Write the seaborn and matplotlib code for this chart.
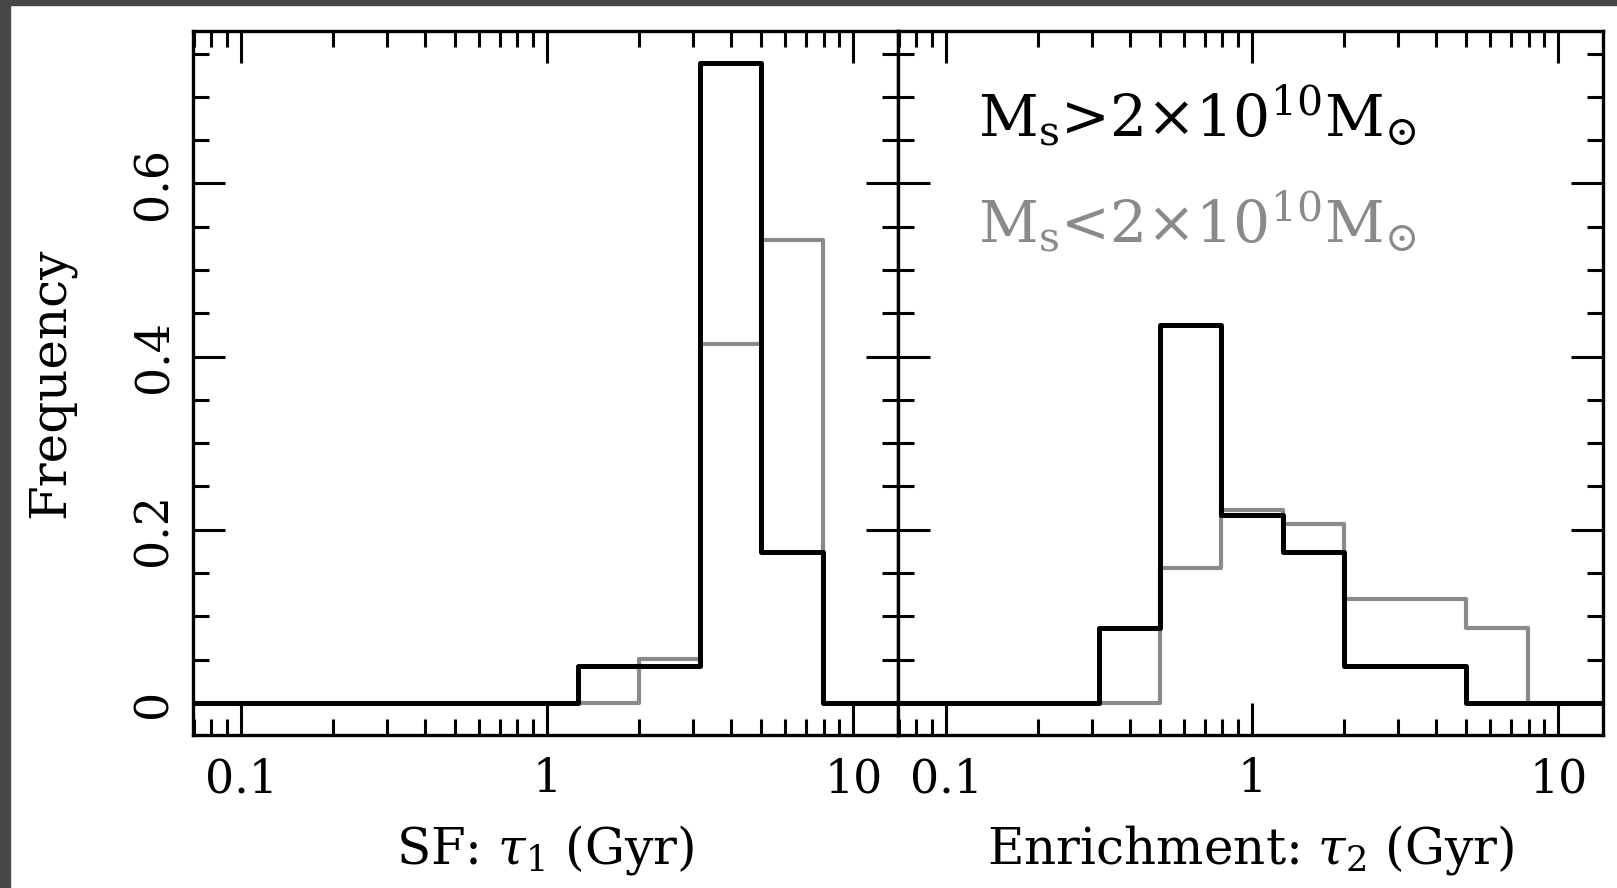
import matplotlib
matplotlib.use("Agg")
import matplotlib.pyplot as plt
import seaborn as sns
import pandas as pd
from matplotlib.ticker import FixedLocator, LogLocator, NullFormatter, MultipleLocator
from matplotlib.patches import Rectangle

# ---------------- data ----------------
bin_edges = [0.05, 0.0794, 0.126, 0.2, 0.316, 0.5, 0.794, 1.26, 2.0, 3.16, 5.0, 7.94, 12.6, 20.0]
sf_high = [0, 0, 0, 0, 0, 0, 0, 0.043, 0.043, 0.739, 0.174, 0, 0]
sf_low = [0, 0, 0, 0, 0, 0, 0, 0, 0.051, 0.414, 0.535, 0, 0]
enr_high = [0, 0, 0, 0, 0.087, 0.436, 0.217, 0.174, 0.043, 0.043, 0, 0, 0]
enr_low = [0, 0, 0, 0, 0, 0.156, 0.223, 0.207, 0.120, 0.120, 0.087, 0, 0]

x_ticks = [0.1, 1, 10]
x_tick_labels = ["0.1", "1", "10"]
y_ticks = [0, 0.2, 0.4, 0.6]
y_tick_labels = ["0", "0.2", "0.4", "0.6"]
x_labels = [r"SF: $\tau_{1}$ (Gyr)", r"Enrichment: $\tau_{2}$ (Gyr)"]
legend_labels = [r"M$_{\rm s}$>2$\times$10$^{10}$M$_{\odot}$",
                 r"M$_{\rm s}$<2$\times$10$^{10}$M$_{\odot}$"]
ylabel = "Frequency"

BLACK = "#000000"
GRAY = "#8a8a8a"

sns.set_theme(style="ticks")
plt.rcParams["font.family"] = ["DejaVu Serif"]
plt.rcParams["mathtext.fontset"] = "dejavuserif"

fig = plt.figure(figsize=(16.17, 8.88), dpi=100)
fig.patch.set_facecolor("white")
# dark frame strips of the screenshot
fig.patches.append(Rectangle((0, 0), 10 / 1617, 1, transform=fig.transFigure, color="#474747", zorder=0))
fig.patches.append(Rectangle((0, 1 - 5 / 888), 1, 5 / 888, transform=fig.transFigure, color="#474747", zorder=0))

bottom = 1 - 735 / 888
height = (735 - 31) / 888
ax1 = fig.add_axes([193 / 1617, bottom, (898 - 193) / 1617, height])
ax2 = fig.add_axes([898 / 1617, bottom, (1603 - 898) / 1617, height])


def step_df(vals):
    return pd.DataFrame({"x": bin_edges, "y": list(vals) + [vals[-1]]})


for ax, low, high, xl in [(ax1, sf_low, sf_high, x_labels[0]), (ax2, enr_low, enr_high, x_labels[1])]:
    sns.lineplot(data=step_df(low), x="x", y="y", drawstyle="steps-post", color=GRAY,
                 lw=3.0, estimator=None, sort=False, ax=ax)
    sns.lineplot(data=step_df(high), x="x", y="y", drawstyle="steps-post", color=BLACK,
                 lw=3.6, estimator=None, sort=False, ax=ax)
    ax.set_xscale("log")
    ax.set_xlim(0.0697, 14.0)
    ax.set_ylim(-0.037, 0.776)
    ax.set_facecolor("white")
    for s in ax.spines.values():
        s.set_linewidth(2.4)
        s.set_color("black")
        s.set_visible(True)
    ax.xaxis.set_major_locator(FixedLocator(x_ticks))
    ax.set_xticklabels(x_tick_labels)
    ax.xaxis.set_minor_locator(LogLocator(base=10, subs=[2, 3, 4, 5, 6, 7, 8, 9]))
    ax.xaxis.set_minor_formatter(NullFormatter())
    ax.yaxis.set_major_locator(FixedLocator(y_ticks))
    ax.yaxis.set_minor_locator(MultipleLocator(0.05))
    ax.tick_params(which="both", direction="in", top=True, right=True, colors="black",
                   labelsize=33, width=2.2)
    ax.tick_params(which="major", length=23)
    ax.tick_params(axis="x", which="major", pad=16)
    ax.tick_params(axis="y", which="major", pad=12)
    ax.tick_params(which="minor", length=11.5)
    ax.set_xlabel(xl, fontsize=36, labelpad=15, color="black")
    ax.grid(False)

ax1.set_yticklabels(y_tick_labels)
for lab in ax1.get_yticklabels():
    lab.set_rotation(90)
    lab.set_va("center")
ax1.set_ylabel(ylabel, fontsize=36, labelpad=40, color="black")
ax2.set_ylabel("")
ax2.tick_params(axis="y", labelleft=False)

ax2.text(0.113, 0.88, legend_labels[0], transform=ax2.transAxes, fontsize=42,
         color=BLACK, va="center", ha="left")
ax2.text(0.113, 0.729, legend_labels[1], transform=ax2.transAxes, fontsize=42,
         color=GRAY, va="center", ha="left")

fig.savefig("out.png", dpi=100, facecolor="white")
